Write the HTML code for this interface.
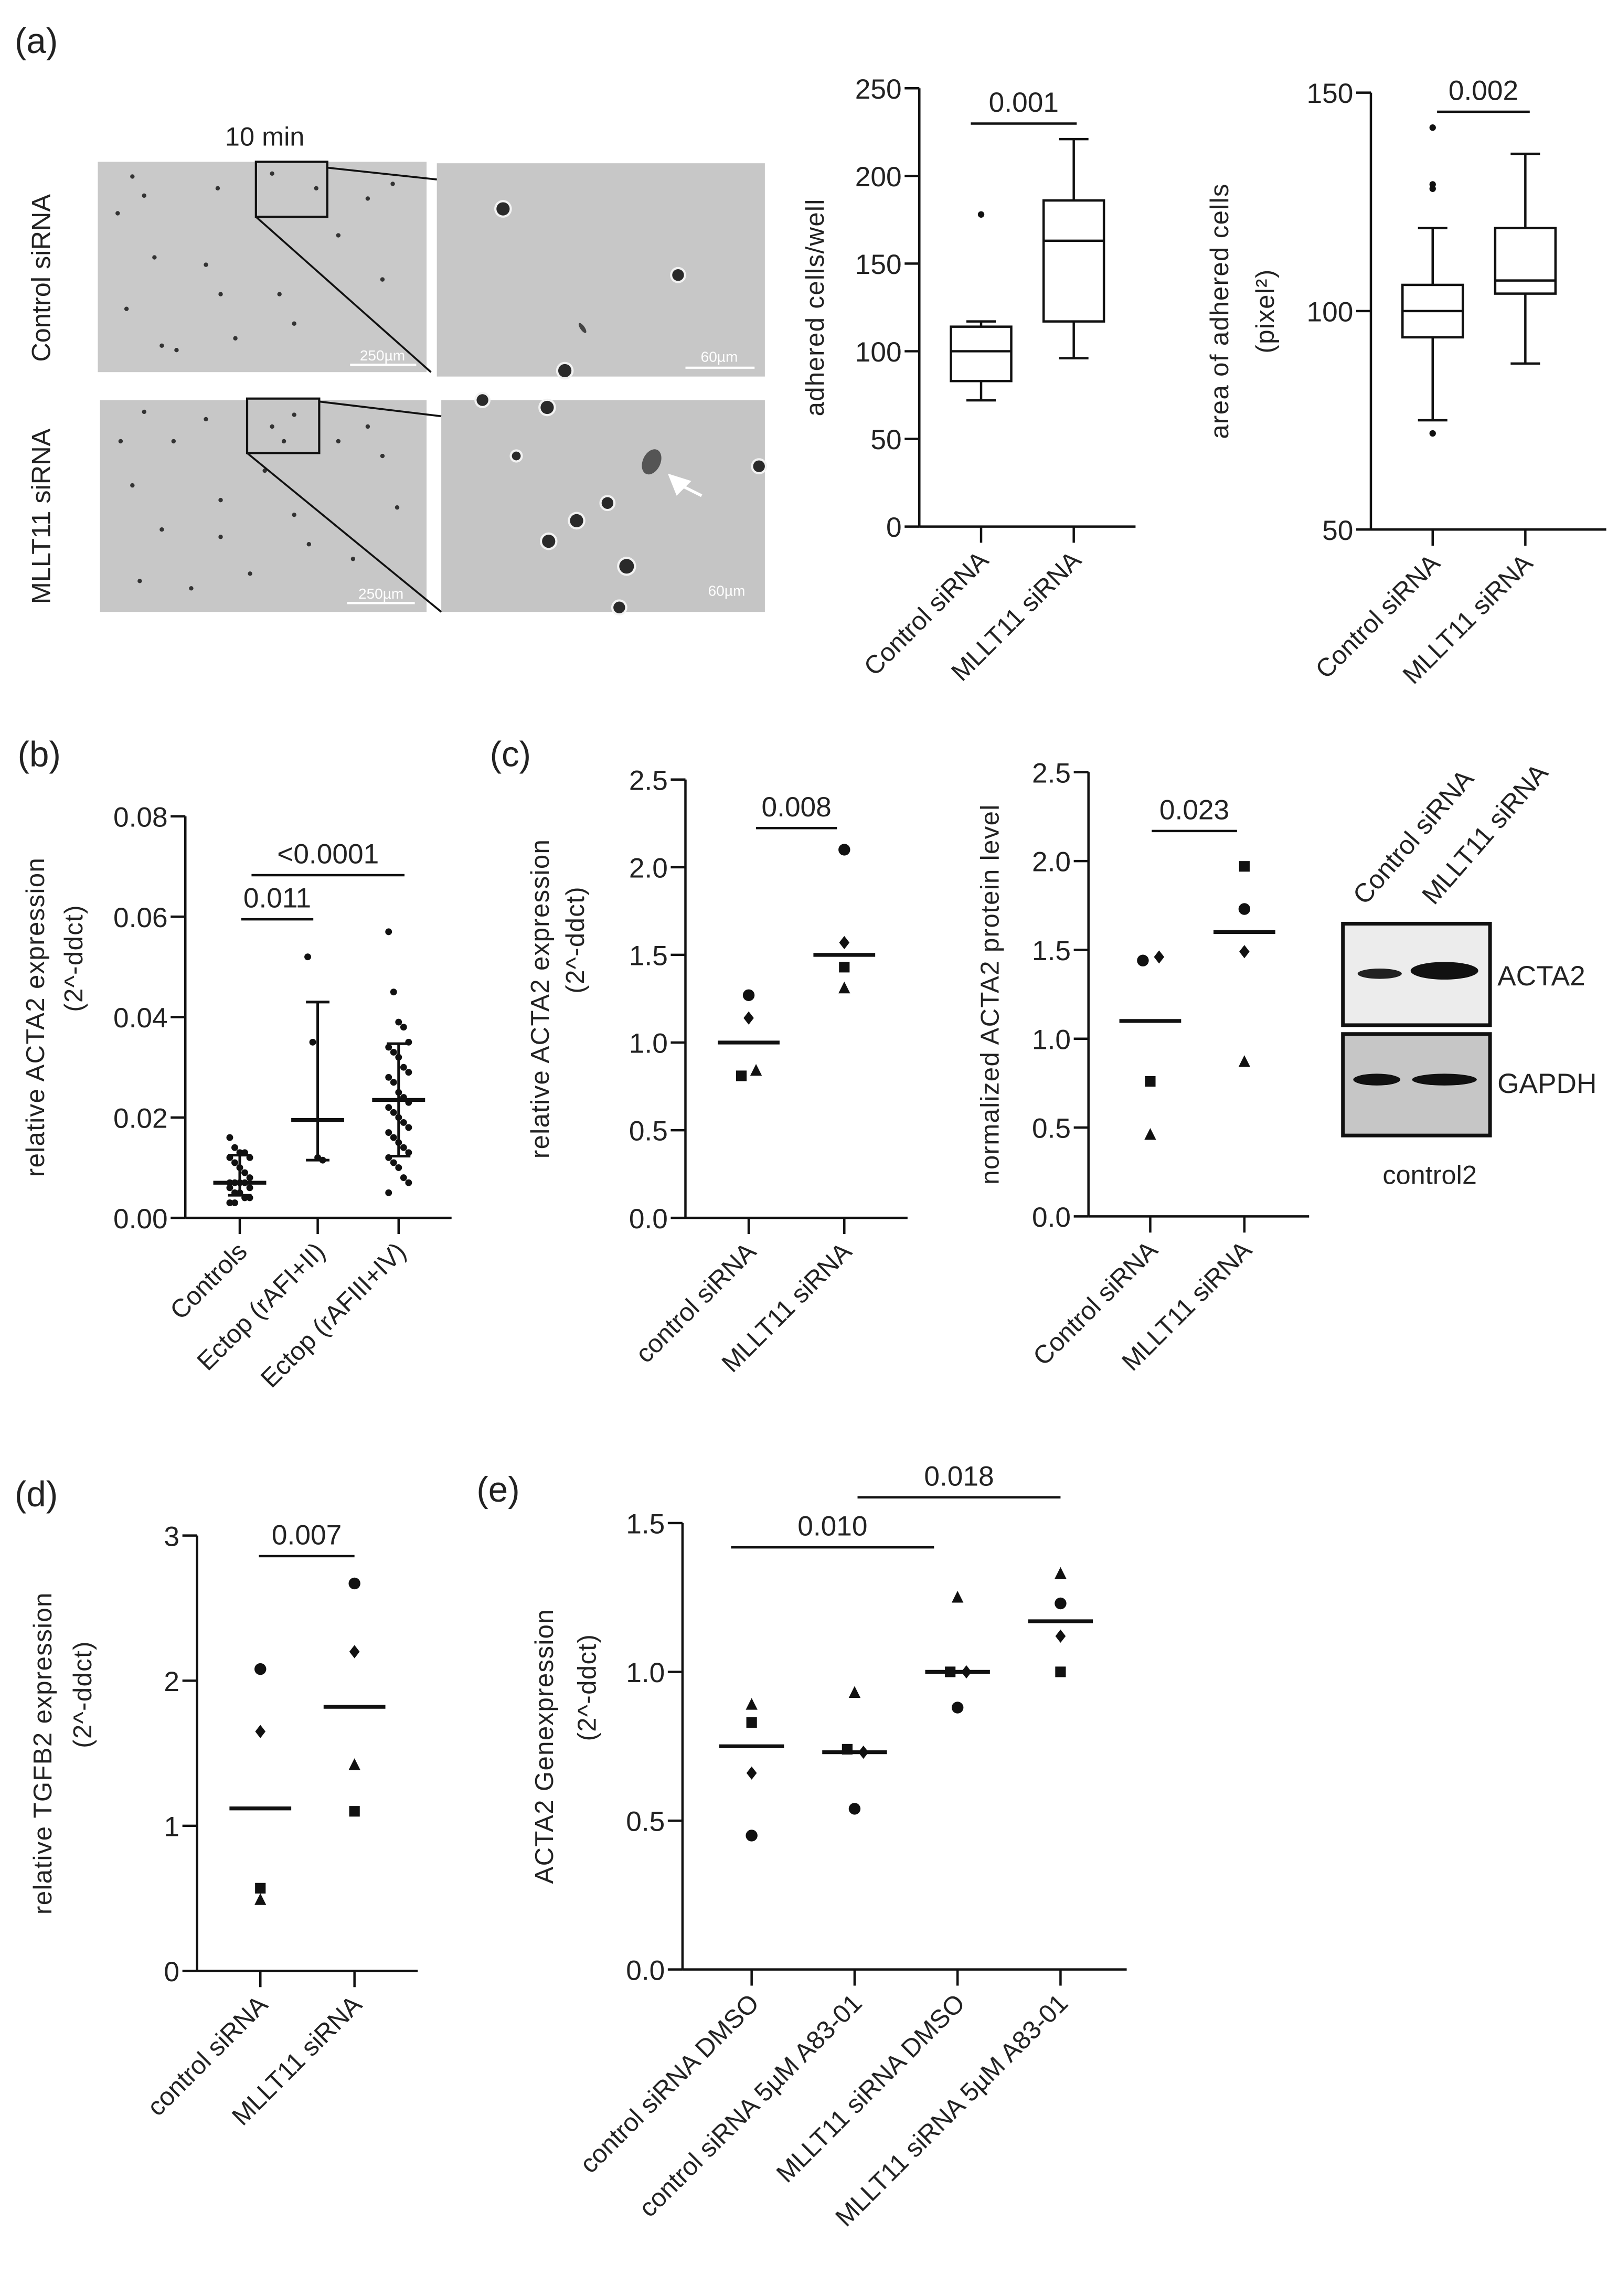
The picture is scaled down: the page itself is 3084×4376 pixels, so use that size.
<!DOCTYPE html>
<html><head><meta charset="utf-8"><style>
html,body{margin:0;padding:0;background:#fff}
svg{display:block}
text{font-family:"Liberation Sans",sans-serif;fill:#222}
</style></head><body>
<svg id="fig" width="3084" height="4376" viewBox="0 0 1100 1561" preserveAspectRatio="none" xmlns="http://www.w3.org/2000/svg">
<rect width="1100" height="1561" fill="#fff"/>
<g id="micro">
 <text x="10" y="36" font-size="24">(a)</text>
 <text x="180" y="99" font-size="18" text-anchor="middle">10 min</text>
 <text transform="translate(34,189) rotate(-90)" font-size="18" text-anchor="middle">Control siRNA</text>
 <text transform="translate(34,351) rotate(-90)" font-size="18" text-anchor="middle">MLLT11  siRNA</text>
 <rect x="66.5" y="110" width="223.5" height="143" fill="#c9c9c9"/>
 <rect x="297" y="111" width="223" height="145" fill="#c7c7c7"/>
 <rect x="68" y="272" width="222" height="144" fill="#c7c7c7"/>
 <rect x="300" y="272" width="220" height="144" fill="#c5c5c5"/>
 <g id="dots"></g>
 <rect x="174" y="110" width="48.5" height="37.4" fill="none" stroke="#111" stroke-width="1.5"/>
 <rect x="168" y="271" width="49" height="37" fill="none" stroke="#111" stroke-width="1.5"/>
 <line x1="222.5" y1="114" x2="297" y2="122" stroke="#111" stroke-width="1.3"/>
 <line x1="174" y1="147.4" x2="293" y2="253" stroke="#111" stroke-width="1.3"/>
 <line x1="217" y1="273" x2="300" y2="283" stroke="#111" stroke-width="1.3"/>
 <line x1="168" y1="308" x2="300" y2="416" stroke="#111" stroke-width="1.3"/>
 <line x1="238" y1="248" x2="283" y2="248" stroke="#fff" stroke-width="1.5"/><text x="260" y="245" font-size="10" style="fill:#fff" text-anchor="middle">250µm</text>
 <line x1="466" y1="250" x2="513" y2="250" stroke="#fff" stroke-width="1.5"/><text x="489" y="246" font-size="10" style="fill:#fff" text-anchor="middle">60µm</text>
 <line x1="236" y1="410" x2="282" y2="410" stroke="#fff" stroke-width="1.5"/><text x="259" y="407" font-size="10" style="fill:#fff" text-anchor="middle">250µm</text>
 <text x="494" y="405" font-size="10" style="fill:#fff" text-anchor="middle">60µm</text>
 <polygon points="454,322 470,327 460,337" fill="#fff"/>
 <line x1="463" y1="330" x2="477" y2="337" stroke="#fff" stroke-width="2"/>
</g>
<g id="blot">
 <rect x="913" y="628" width="100" height="69" fill="#ececec" stroke="#111" stroke-width="2.5"/>
 <rect x="913" y="703" width="100" height="69" fill="#c6c6c6" stroke="#111" stroke-width="2.5"/>
 <ellipse cx="938" cy="662" rx="15" ry="3.5" fill="#222"/>
 <ellipse cx="982" cy="660" rx="23" ry="6" fill="#111"/>
 <ellipse cx="936" cy="734" rx="16" ry="4" fill="#111"/>
 <ellipse cx="982" cy="734" rx="22" ry="4" fill="#111"/>
 <text x="1018" y="670" font-size="19">ACTA2</text>
 <text x="1018" y="743" font-size="19">GAPDH</text>
 <text x="972" y="805" font-size="18" text-anchor="middle">control2</text>
 <text transform="translate(928,616) rotate(-49)" font-size="18">Control siRNA</text>
 <text transform="translate(975,616) rotate(-49)" font-size="18">MLLT11  siRNA</text>
</g>
<g id="charts"></g>
</svg>
<script>
// ---- data: panel a1 (box plot adhered cells) ----
const a1Cats = ["Control siRNA","MLLT11 siRNA"];
const a1Min = [72, 96];
const a1Q1 = [83, 117];
const a1Med = [100, 163];
const a1Q3 = [114, 186];
const a1Max = [117, 221];
const a1Outliers = [[178], []];
const a1Ticks = [0,50,100,150,200,250];
// ---- panel a2 (box plot area) ----
const a2Cats = ["Control siRNA","MLLT11 siRNA"];
const a2Min = [75, 88];
const a2Q1 = [94, 104];
const a2Med = [100, 107];
const a2Q3 = [106, 119];
const a2Max = [119, 136];
const a2Outliers = [[142,129,128,72], []];
const a2Ticks = [50,100,150];
// ---- panel b ----
const bCats = ["Controls","Ectop (rAFI+II)","Ectop (rAFIII+IV)"];
const bPoints = [
 [0.016,0.014,0.013,0.013,0.012,0.012,0.011,0.01,0.009,0.008,0.007,0.007,0.007,0.007,0.006,0.006,0.005,0.005,0.004,0.004,0.003,0.003],
 [0.052,0.035,0.012,0.0115],
 [0.057,0.045,0.039,0.038,0.035,0.034,0.033,0.032,0.03,0.029,0.028,0.027,0.025,0.024,0.023,0.022,0.021,0.02,0.019,0.018,0.017,0.016,0.015,0.014,0.013,0.012,0.011,0.01,0.008,0.007,0.005]
];
const bMean = [0.007, 0.0195, 0.0235];
const bSdLo = [0.0045, 0.0115, 0.0123];
const bSdHi = [0.0125, 0.043, 0.0347];
const bTicks = [0,0.02,0.04,0.06,0.08];
// ---- panel c1 ----
const c1Cats = ["control siRNA","MLLT11 siRNA"];
const c1Circle = [1.27, 2.1];
const c1Diamond = [1.14, 1.57];
const c1Square = [0.81, 1.43];
const c1Triangle = [0.84, 1.31];
const c1Mean = [1.0, 1.5];
const c1Ticks = [0,0.5,1,1.5,2,2.5];
// ---- panel c2 ----
const c2Cats = ["Control siRNA","MLLT11 siRNA"];
const c2Circle = [1.44, 1.73];
const c2Diamond = [1.46, 1.49];
const c2Square = [0.76, 1.97];
const c2Triangle = [0.46, 0.87];
const c2Mean = [1.1, 1.6];
const c2Ticks = [0,0.5,1,1.5,2,2.5];
// ---- panel d ----
const dCats = ["control siRNA","MLLT11 siRNA"];
const dCircle = [2.08, 2.67];
const dDiamond = [1.65, 2.2];
const dSquare = [0.57, 1.1];
const dTriangle = [0.49, 1.42];
const dMean = [1.12, 1.82];
const dTicks = [0,1,2,3];
// ---- panel e ----
const eCats = ["control siRNA DMSO","control siRNA 5µM A83-01","MLLT11 siRNA DMSO","MLLT11 siRNA 5µM A83-01"];
const eCircle = [0.45, 0.54, 0.88, 1.23];
const eDiamond = [0.66, 0.73, 1.0, 1.12];
const eSquare = [0.83, 0.74, 1.0, 1.0];
const eTriangle = [0.89, 0.93, 1.25, 1.33];
const eMean = [0.75, 0.73, 1.0, 1.17];
const eTicks = [0,0.5,1,1.5];

const NS="http://www.w3.org/2000/svg";
const root=document.getElementById('charts');
function el(tag,attrs,parent){const e=document.createElementNS(NS,tag);for(const k in attrs)e.setAttribute(k,attrs[k]);(parent||root).appendChild(e);return e;}
function txt(s,attrs,parent){const t=el('text',attrs,parent);t.textContent=s;return t;}
function lin(v,d0,d1,r0,r1){return r0+(v-d0)/(d1-d0)*(r1-r0);}

function axes(g,cfg){
 const y=v=>lin(v,cfg.y0,cfg.y1,cfg.py0,cfg.py1);
 el('line',{x1:cfg.ax,y1:cfg.py1,x2:cfg.ax,y2:cfg.py0,stroke:'#111','stroke-width':1.6},g);
 el('line',{x1:cfg.ax,y1:cfg.py0,x2:cfg.axEnd,y2:cfg.py0,stroke:'#111','stroke-width':1.6},g);
 cfg.ticks.forEach(t=>{
  const tk=el('line',{x1:cfg.ax-10,x2:cfg.ax,y1:y(t),y2:y(t),stroke:'#111','stroke-width':1.6},g);
  
  
  const lb=txt(cfg.fmt(t),{x:cfg.ax-12,y:y(t)+7,'font-size':19,'text-anchor':'end'},g);
  
  
 });
 cfg.cats.forEach((c,i)=>{
  const x=cfg.cx[i];
  el('line',{x1:x,x2:x,y1:cfg.py0,y2:cfg.py0+11,stroke:'#111','stroke-width':1.6},g);
  const lb=txt(c,{transform:`translate(${x+6},${cfg.py0+24}) rotate(-45)`,'font-size':17.5,'text-anchor':'end'},g);
  
  
 });
 cfg.ylab.forEach(s=>{
  const t=txt(s.t,{transform:`translate(${s.x+6},${(cfg.py0+cfg.py1)/2+(s.dy||0)}) rotate(-90)`,'font-size':17.5,'text-anchor':'middle','letter-spacing':'0.5'},g);
  
  
 });
 return y;
}
function sig(g,label,x1,x2,yy){
 el('line',{x1:x1,x2:x2,y1:yy,y2:yy,stroke:'#111','stroke-width':1.6},g);
 const t=txt(label,{x:(x1+x2)/2,y:yy-8,'font-size':19,'text-anchor':'middle'},g);
 
 
}
function boxplot(g,y,cx,mn,q1,md,q3,mx,out,hw){
 cx.forEach((x,i)=>{
  const b=el('rect',{x:x-hw,y:y(q3[i]),width:2*hw,height:y(q1[i])-y(q3[i]),fill:'none',stroke:'#111','stroke-width':1.6},g);
  
  
  el('line',{x1:x-hw,x2:x+hw,y1:y(md[i]),y2:y(md[i]),stroke:'#111','stroke-width':1.6},g);
  el('line',{x1:x,x2:x,y1:y(q3[i]),y2:y(mx[i]),stroke:'#111','stroke-width':1.6},g);
  el('line',{x1:x,x2:x,y1:y(q1[i]),y2:y(mn[i]),stroke:'#111','stroke-width':1.6},g);
  el('line',{x1:x-10,x2:x+10,y1:y(mx[i]),y2:y(mx[i]),stroke:'#111','stroke-width':1.6},g);
  el('line',{x1:x-10,x2:x+10,y1:y(mn[i]),y2:y(mn[i]),stroke:'#111','stroke-width':1.6},g);
  out[i].forEach(v=>{const p=el('circle',{cx:x,cy:y(v),r:2.2,fill:'#111'},g);
   
   });
 });
}
function marker(g,shape,x,yy){
 let m;
 if(shape==='circle') m=el('circle',{cx:x,cy:yy,r:4,fill:'#111'},g);
 else if(shape==='square') m=el('rect',{x:x-3.6,y:yy-3.6,width:7.2,height:7.2,fill:'#111'},g);
 else if(shape==='diamond') m=el('polygon',{points:`${x},${yy-4.5} ${x+3.5},${yy} ${x},${yy+4.5} ${x-3.5},${yy}`,fill:'#111'},g);
 else m=el('polygon',{points:`${x},${yy-4.5} ${x+4},${yy+3.5} ${x-4},${yy+3.5}`,fill:'#111'},g);
 
 
}
function dotplot(g,y,cx,sets,mean,hw,off){
 cx.forEach((x,i)=>{
  sets.forEach(([shape,arr],k)=>marker(g,shape,x+(off?off[i][k]:0),y(arr[i])));
  const ml=el('line',{x1:x-hw,x2:x+hw,y1:y(mean[i]),y2:y(mean[i]),stroke:'#111','stroke-width':2.6},g);
  
  
 });
}
const f1=v=>v.toFixed(1), f0=v=>String(v), f2=v=>v.toFixed(2);

// a1
(function(){
 const g=el('g',{});
 const cx=[667,730];
 const y=axes(g,{ax:625,axEnd:772,y0:0,y1:250,py0:358,py1:60,ticks:a1Ticks,fmt:f0,cats:a1Cats,cx:cx,ylab:[{t:'adhered cells/well',x:554}]});
 boxplot(g,y,cx,a1Min,a1Q1,a1Med,a1Q3,a1Max,a1Outliers,20.5);
 sig(g,'0.001',660,732,84);
})();
// a2
(function(){
 const g=el('g',{});
 const cx=[974,1037];
 const y=axes(g,{ax:932,axEnd:1092,y0:50,y1:150,py0:360,py1:63,ticks:a2Ticks,fmt:f0,cats:a2Cats,cx:cx,ylab:[{t:'area of adhered cells',x:829},{t:'(pixel²)',x:860}]});
 boxplot(g,y,cx,a2Min,a2Q1,a2Med,a2Q3,a2Max,a2Outliers,20.5);
 sig(g,'0.002',977,1040,76);
})();
// b
(function(){
 const g=el('g',{});
 txt('(b)',{x:12,y:521,'font-size':24},g);
 const cx=[163,216,271];
 const y=axes(g,{ax:126,axEnd:307,y0:0,y1:0.08,py0:828,py1:555,ticks:bTicks,fmt:f2,cats:bCats,cx:cx,ylab:[{t:'relative ACTA2 expression',x:24},{t:'(2^-ddct)',x:50,dy:-40}]});
 cx.forEach((x,i)=>{
  bPoints[i].forEach((v,k)=>{const p=el('circle',{cx:x+((k%5)-2)*3.4,cy:y(v),r:2.3,fill:'#111'},g);
   
   });
  el('line',{x1:x,x2:x,y1:y(bSdLo[i]),y2:y(bSdHi[i]),stroke:'#111','stroke-width':1.8},g);
  el('line',{x1:x-8,x2:x+8,y1:y(bSdLo[i]),y2:y(bSdLo[i]),stroke:'#111','stroke-width':1.8},g);
  el('line',{x1:x-8,x2:x+8,y1:y(bSdHi[i]),y2:y(bSdHi[i]),stroke:'#111','stroke-width':1.8},g);
  el('line',{x1:x-18,x2:x+18,y1:y(bMean[i]),y2:y(bMean[i]),stroke:'#111','stroke-width':2.6},g);
 });
 sig(g,'0.011',164,213,625);
 sig(g,'<0.0001',171,275,595);
})();
// c1
(function(){
 const g=el('g',{});
 txt('(c)',{x:333,y:521,'font-size':24},g);
 const cx=[509,574];
 const y=axes(g,{ax:466,axEnd:617,y0:0,y1:2.5,py0:828,py1:530,ticks:c1Ticks,fmt:f1,cats:c1Cats,cx:cx,ylab:[{t:'relative ACTA2 expression',x:367},{t:'(2^-ddct)',x:391,dy:-40}]});
 dotplot(g,y,cx,[['circle',c1Circle],['diamond',c1Diamond],['square',c1Square],['triangle',c1Triangle]],c1Mean,21,[[0,0,-5,5],[0,0,0,0]]);
 sig(g,'0.008',514,569,563);
})();
// c2
(function(){
 const g=el('g',{});
 const cx=[782,846];
 const y=axes(g,{ax:740,axEnd:890,y0:0,y1:2.5,py0:827,py1:525,ticks:c2Ticks,fmt:f1,cats:c2Cats,cx:cx,ylab:[{t:'normalized ACTA2 protein level',x:673}]});
 dotplot(g,y,cx,[['circle',c2Circle],['diamond',c2Diamond],['square',c2Square],['triangle',c2Triangle]],c2Mean,21,[[-5,6,0,0],[0,0,0,0]]);
 sig(g,'0.023',783,841,565);
})();
// d
(function(){
 const g=el('g',{});
 txt('(d)',{x:10,y:1024,'font-size':24},g);
 const cx=[177,241];
 const y=axes(g,{ax:134,axEnd:284,y0:0,y1:3,py0:1340,py1:1044,ticks:dTicks,fmt:f0,cats:dCats,cx:cx,ylab:[{t:'relative TGFB2 expression',x:29},{t:'(2^-ddct)',x:56,dy:-40}]});
 dotplot(g,y,cx,[['circle',dCircle],['diamond',dDiamond],['square',dSquare],['triangle',dTriangle]],dMean,21,null);
 sig(g,'0.007',176,241,1058);
})();
// e
(function(){
 const g=el('g',{});
 txt('(e)',{x:324,y:1021,'font-size':24},g);
 const cx=[511,581,651,721];
 const y=axes(g,{ax:464,axEnd:766,y0:0,y1:1.5,py0:1339,py1:1035.5,ticks:eTicks,fmt:f1,cats:eCats,cx:cx,ylab:[{t:'ACTA2 Genexpression',x:370},{t:'(2^-ddct)',x:399,dy:-40}]});
 dotplot(g,y,cx,[['circle',eCircle],['diamond',eDiamond],['square',eSquare],['triangle',eTriangle]],eMean,22,[[0,0,0,0],[0,6,-5,0],[0,6,-5,0],[0,0,0,0]]);
 sig(g,'0.010',497,635,1052);
 sig(g,'0.018',583,721,1018);
})();

// decorative cell dots in micrographs
(function(){
 const g=document.getElementById('dots');
 const pts=[[90,120],[80,145],[98,133],[86,210],[110,235],[140,180],[150,200],[160,230],[120,238],[200,220],[230,160],[260,190],[250,135],[267,125],[105,175],[190,200],[185,118],[215,128],[148,128],[98,280],[118,300],[140,285],[90,330],[110,360],[150,340],[180,320],[230,300],[260,310],[270,345],[240,380],[210,370],[170,390],[130,400],[95,395],[200,350],[150,365],[82,300],[250,290],[185,290],[200,282],[193,300]];
 pts.forEach(p=>{el('circle',{cx:p[0],cy:p[1],r:1.5,fill:'#333'},g);});
 [[342,142,4.5],[461,187,4],[384,252,4.5],[328,272,4],[372,277,4.5],[351,310,3],[516,317,4],[413,342,4],[392,354,4.5],[373,368,4.5],[426,385,5],[421,413,4]].forEach(p=>{
  el('circle',{cx:p[0],cy:p[1],r:p[2]+1.5,fill:'#f2f2f2'},g);
  el('circle',{cx:p[0],cy:p[1],r:p[2],fill:'#2a2a2a'},g);
 });
 el('ellipse',{cx:443,cy:314,rx:6,ry:9,fill:'#555',transform:'rotate(25 443 314)'},g);
 el('ellipse',{cx:396,cy:223,rx:1.5,ry:4,fill:'#444',transform:'rotate(-35 396 223)'},g);
})();
</script>
</body></html>
